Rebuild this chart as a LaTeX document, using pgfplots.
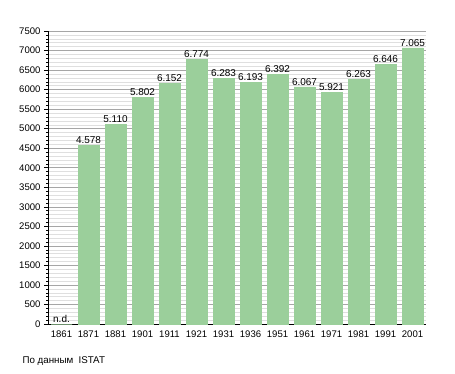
\documentclass[border=0pt]{standalone}
\usepackage{pgfplots}
\pgfplotsset{compat=1.18}
\usepackage{fontspec}
\setmainfont{Liberation Sans}
\definecolor{bargreen}{RGB}{155,207,155}
\begin{document}
\begin{tikzpicture}[x=1bp,y=1bp]
\useasboundingbox (0,0) rectangle (455,373);
\begin{axis}[
  at={(48bp,49bp)}, anchor=south west,
  scale only axis, width=378bp, height=293bp,
  xmin=-0.5, xmax=13.5, ymin=0, ymax=7500,
  axis x line*=bottom, axis y line*=left,
  axis line style={black, line width=0.8pt, -},
  xtick={0,...,13},
  xticklabels={1861,1871,1881,1901,1911,1921,1931,1936,1951,1961,1971,1981,1991,2001},
  major x tick style={draw=none},
  ytick={0,500,...,7500},
  minor y tick num=4,
  ymajorgrids, yminorgrids,
  major grid style={gray!70, line width=0.5pt},
  minor grid style={gray!25, line width=0.5pt},
  tick align=outside,
  major tick length=4bp, minor tick length=2bp,
  tick style={black, line width=0.5pt},
  yticklabel style={/pgf/number format/.cd, fixed, 1000 sep={}},
  /pgf/number format/assume math mode=true,
  tick label style={font=\fontsize{9.6}{10}\selectfont},
  xticklabel style={yshift=1bp},
  ybar, bar width=21bp,
  nodes near coords,
  point meta=explicit symbolic,
  every node near coord/.append style={font=\fontsize{10}{11}\selectfont, inner sep=1.5pt},
  clip=false,
]
\addplot[fill=bargreen, draw=bargreen] table[x=x, y=y, meta=l] {
x y l
0 0 n.d.
1 4578 4.578
2 5110 5.110
3 5802 5.802
4 6152 6.152
5 6774 6.774
6 6283 6.283
7 6193 6.193
8 6392 6.392
9 6067 6.067
10 5921 5.921
11 6263 6.263
12 6646 6.646
13 7065 7.065
};
\end{axis}
\node[anchor=west, font=\fontsize{9.8}{11}\selectfont] at (19bp,12bp) {По данным\ \ ISTAT};
\end{tikzpicture}
\end{document}
